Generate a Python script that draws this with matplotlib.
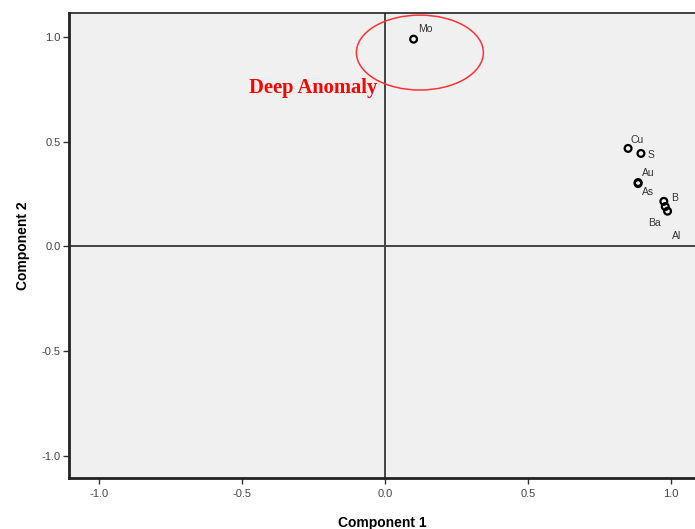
import matplotlib.pyplot as plt
from matplotlib.patches import Ellipse

# component loadings (rotated space) for each element
elements = ['Mo', 'Cu', 'S', 'Au', 'As', 'B', 'Ba', 'Al']
comp1 = [0.10, 0.85, 0.895, 0.885, 0.885, 0.975, 0.98, 0.988]
comp2 = [0.99, 0.468, 0.444, 0.305, 0.30, 0.215, 0.19, 0.168]
# label offsets in points
offsets = [(3, 5), (2, 4), (5, -3), (3, 5), (3, -8), (5, 0), (-12, -14), (3, -20)]

xticks = [-1.0, -0.5, 0.0, 0.5, 1.0]
yticks = [-1.0, -0.5, 0.0, 0.5, 1.0]

plt.rcParams['font.family'] = ['Liberation Sans', 'DejaVu Sans']

fig = plt.figure(figsize=(6.95, 5.29), dpi=100)
ax = fig.add_axes([0.0993, 0.0964, 0.9007, 0.879])
ax.set_facecolor('#f0f0f0')

ax.set_xlim(-1.105, 1.084)
ax.set_ylim(-1.107, 1.115)

ax.axhline(0, color='#444444', lw=1.4, zorder=1)
ax.axvline(0, color='#444444', lw=1.4, zorder=1)

ax.scatter(comp1, comp2, s=24, facecolors='none', edgecolors='black',
           linewidths=1.6, zorder=3)
for name, x, y, off in zip(elements, comp1, comp2, offsets):
    ax.annotate(name, (x, y), xytext=off, textcoords='offset points',
                fontsize=7.5, color='#333333', zorder=4)

ax.add_patch(Ellipse((0.122, 0.926), 0.444, 0.358, fill=False,
                     edgecolor='#ff3333', lw=1.1, zorder=2))
ax.text(-0.476, 0.759, 'Deep Anomaly', color='red', fontsize=14.8,
        fontweight='bold', family='Liberation Serif', va='center', ha='left')

ax.set_xticks(xticks)
ax.set_yticks(yticks)
ax.set_xticklabels([f'{t:.1f}' for t in xticks])
ax.set_yticklabels([f'{t:.1f}' for t in yticks])
ax.tick_params(direction='out', length=4, width=1, colors='#333333',
               labelsize=8, labelcolor='#444444', pad=2)
ax.tick_params(axis='x', pad=4)

for side in ['left', 'bottom']:
    ax.spines[side].set_linewidth(2)
    ax.spines[side].set_color('#222222')
ax.spines['top'].set_linewidth(1.2)
ax.spines['top'].set_color('#222222')
ax.spines['right'].set_visible(False)

ax.set_xlabel('Component 1', fontsize=10, fontweight='bold', labelpad=12)
ax.set_ylabel('Component 2', fontsize=10, fontweight='bold', labelpad=8)

fig.savefig('out.png', dpi=100)
